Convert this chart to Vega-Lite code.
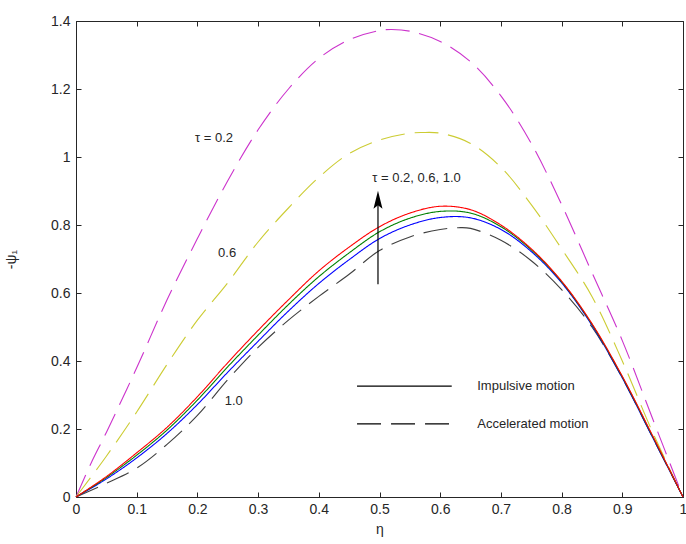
{
  "$schema": "https://vega.github.io/schema/vega-lite/v6.json",
  "width": 607,
  "height": 476,
  "autosize": "none",
  "padding": {"left": 76, "top": 21, "right": 3, "bottom": 47},
  "background": "white",
  "config": {
    "view": {"stroke": "#262626", "strokeWidth": 1},
    "font": "Liberation Sans",
    "axis": {"grid": false, "domainColor": "#262626", "tickColor": "#262626", "labelColor": "#262626", "titleColor": "#262626", "labelFont": "Liberation Sans", "titleFont": "Liberation Sans", "labelFontSize": 14, "titleFontSize": 14, "titleFontWeight": "normal", "tickSize": -5, "domain": true}
  },
  "datasets": {
    "curves": [
      {"curve":"A02","x":0,"y":0},{"curve":"A02","x":0.025,"y":0.1},{"curve":"A02","x":0.05,"y":0.19},{"curve":"A02","x":0.1,"y":0.38},{"curve":"A02","x":0.15,"y":0.58},{"curve":"A02","x":0.2,"y":0.76},{"curve":"A02","x":0.25,"y":0.93},{"curve":"A02","x":0.3,"y":1.08},{"curve":"A02","x":0.35,"y":1.2},{"curve":"A02","x":0.4,"y":1.29},{"curve":"A02","x":0.45,"y":1.345},{"curve":"A02","x":0.5,"y":1.372},{"curve":"A02","x":0.52,"y":1.375},{"curve":"A02","x":0.55,"y":1.37},{"curve":"A02","x":0.6,"y":1.34},{"curve":"A02","x":0.65,"y":1.28},{"curve":"A02","x":0.7,"y":1.18},{"curve":"A02","x":0.75,"y":1.04},{"curve":"A02","x":0.8,"y":0.86},{"curve":"A02","x":0.85,"y":0.66},{"curve":"A02","x":0.9,"y":0.46},{"curve":"A02","x":0.95,"y":0.23},{"curve":"A02","x":1,"y":0},
      {"curve":"A06","x":0,"y":0},{"curve":"A06","x":0.05,"y":0.12},{"curve":"A06","x":0.1,"y":0.25},{"curve":"A06","x":0.15,"y":0.39},{"curve":"A06","x":0.2,"y":0.52},{"curve":"A06","x":0.25,"y":0.63},{"curve":"A06","x":0.3,"y":0.75},{"curve":"A06","x":0.35,"y":0.85},{"curve":"A06","x":0.4,"y":0.94},{"curve":"A06","x":0.45,"y":1.01},{"curve":"A06","x":0.5,"y":1.05},{"curve":"A06","x":0.55,"y":1.07},{"curve":"A06","x":0.57,"y":1.072},{"curve":"A06","x":0.6,"y":1.07},{"curve":"A06","x":0.65,"y":1.04},{"curve":"A06","x":0.7,"y":0.97},{"curve":"A06","x":0.75,"y":0.86},{"curve":"A06","x":0.8,"y":0.73},{"curve":"A06","x":0.85,"y":0.59},{"curve":"A06","x":0.9,"y":0.4},{"curve":"A06","x":0.95,"y":0.19},{"curve":"A06","x":1,"y":0},
      {"curve":"A10","x":0,"y":0},{"curve":"A10","x":0.05,"y":0.04},{"curve":"A10","x":0.1,"y":0.085},{"curve":"A10","x":0.15,"y":0.155},{"curve":"A10","x":0.2,"y":0.24},{"curve":"A10","x":0.25,"y":0.345},{"curve":"A10","x":0.3,"y":0.44},{"curve":"A10","x":0.35,"y":0.52},{"curve":"A10","x":0.4,"y":0.59},{"curve":"A10","x":0.45,"y":0.655},{"curve":"A10","x":0.5,"y":0.725},{"curve":"A10","x":0.55,"y":0.765},{"curve":"A10","x":0.6,"y":0.787},{"curve":"A10","x":0.63,"y":0.792},{"curve":"A10","x":0.65,"y":0.79},{"curve":"A10","x":0.7,"y":0.755},{"curve":"A10","x":0.75,"y":0.695},{"curve":"A10","x":0.8,"y":0.61},{"curve":"A10","x":0.85,"y":0.5},{"curve":"A10","x":0.9,"y":0.35},{"curve":"A10","x":0.95,"y":0.175},{"curve":"A10","x":1,"y":0},
      {"curve":"I02","x":0,"y":0},{"curve":"I02","x":0.05,"y":0.053},{"curve":"I02","x":0.1,"y":0.115},{"curve":"I02","x":0.15,"y":0.187},{"curve":"I02","x":0.2,"y":0.272},{"curve":"I02","x":0.25,"y":0.367},{"curve":"I02","x":0.3,"y":0.458},{"curve":"I02","x":0.35,"y":0.547},{"curve":"I02","x":0.4,"y":0.628},{"curve":"I02","x":0.45,"y":0.698},{"curve":"I02","x":0.5,"y":0.76},{"curve":"I02","x":0.55,"y":0.8},{"curve":"I02","x":0.6,"y":0.822},{"curve":"I02","x":0.65,"y":0.821},{"curve":"I02","x":0.7,"y":0.787},{"curve":"I02","x":0.75,"y":0.722},{"curve":"I02","x":0.8,"y":0.63},{"curve":"I02","x":0.85,"y":0.505},{"curve":"I02","x":0.9,"y":0.35},{"curve":"I02","x":0.95,"y":0.175},{"curve":"I02","x":1,"y":0},
      {"curve":"I06","x":0,"y":0},{"curve":"I06","x":0.05,"y":0.057},{"curve":"I06","x":0.1,"y":0.123},{"curve":"I06","x":0.15,"y":0.197},{"curve":"I06","x":0.2,"y":0.285},{"curve":"I06","x":0.25,"y":0.383},{"curve":"I06","x":0.3,"y":0.476},{"curve":"I06","x":0.35,"y":0.566},{"curve":"I06","x":0.4,"y":0.648},{"curve":"I06","x":0.45,"y":0.718},{"curve":"I06","x":0.5,"y":0.78},{"curve":"I06","x":0.55,"y":0.82},{"curve":"I06","x":0.6,"y":0.84},{"curve":"I06","x":0.65,"y":0.835},{"curve":"I06","x":0.7,"y":0.795},{"curve":"I06","x":0.75,"y":0.727},{"curve":"I06","x":0.8,"y":0.633},{"curve":"I06","x":0.85,"y":0.508},{"curve":"I06","x":0.9,"y":0.353},{"curve":"I06","x":0.95,"y":0.178},{"curve":"I06","x":1,"y":0},
      {"curve":"I10","x":0,"y":0},{"curve":"I10","x":0.05,"y":0.06},{"curve":"I10","x":0.1,"y":0.13},{"curve":"I10","x":0.15,"y":0.205},{"curve":"I10","x":0.2,"y":0.295},{"curve":"I10","x":0.25,"y":0.395},{"curve":"I10","x":0.3,"y":0.49},{"curve":"I10","x":0.35,"y":0.58},{"curve":"I10","x":0.4,"y":0.665},{"curve":"I10","x":0.45,"y":0.735},{"curve":"I10","x":0.5,"y":0.795},{"curve":"I10","x":0.55,"y":0.835},{"curve":"I10","x":0.6,"y":0.855},{"curve":"I10","x":0.65,"y":0.845},{"curve":"I10","x":0.7,"y":0.8},{"curve":"I10","x":0.75,"y":0.73},{"curve":"I10","x":0.8,"y":0.635},{"curve":"I10","x":0.85,"y":0.51},{"curve":"I10","x":0.9,"y":0.355},{"curve":"I10","x":0.95,"y":0.18},{"curve":"I10","x":1,"y":0}
    ],
    "labels": [
      {"text":"τ = 0.2","x":0.196,"y":1.056},
      {"text":"0.6","x":0.234,"y":0.718},
      {"text":"1.0","x":0.245,"y":0.282},
      {"text":"τ = 0.2, 0.6, 1.0","x":0.488,"y":0.938},
      {"text":"Impulsive motion","x":0.661,"y":0.326},
      {"text":"Accelerated motion","x":0.661,"y":0.215}
    ],
    "keylines": [
      {"curve":"I10","x":0.463,"y":0.326},{"curve":"I10","x":0.619,"y":0.326},
      {"curve":"A10","x":0.463,"y":0.215},{"curve":"A10","x":0.6145,"y":0.215}
    ],
    "arrow": [
      {"x":0.4975,"y":0.626,"y2":0.88,"head":0.871}
    ]
  },
  "layer": [
    {
      "data": {"name": "curves"},
      "mark": {"type": "line", "strokeWidth": 1.1, "interpolate": "catmull-rom"},
      "encoding": {
        "x": {"field": "x", "type": "quantitative", "scale": {"domain": [0, 1], "nice": false},
          "axis": {"orient": "bottom", "values": [0,0.1,0.2,0.3,0.4,0.5,0.6,0.7,0.8,0.9,1], "format": "~g", "labelPadding": 10, "title": "η", "titlePadding": 6, "labelFlush": false}},
        "y": {"field": "y", "type": "quantitative", "scale": {"domain": [0, 1.4], "nice": false},
          "axis": {"orient": "left", "values": [0,0.2,0.4,0.6,0.8,1,1.2,1.4], "format": "~g", "labelPadding": 11, "title": "-ψ₁", "titlePadding": 32, "labelFlush": false}},
        "color": {"field": "curve", "type": "nominal", "legend": null,
          "scale": {"domain": ["A02","A06","A10","I02","I06","I10"], "range": ["#cc33cc","#cccc33","#404040","#0000ff","#008000","#ff0000"]}},
        "strokeDash": {"field": "curve", "type": "nominal", "legend": null,
          "scale": {"domain": ["A02","A06","A10","I02","I06","I10"], "range": [[24,10],[24,10],[24,10],[1,0],[1,0],[1,0]]}}
      }
    },
    {
      "data": {"name": "keylines"},
      "mark": {"type": "line", "color": "#000000", "strokeWidth": 1.1},
      "encoding": {
        "x": {"field": "x", "type": "quantitative", "axis": {"orient": "top", "values": [0,0.1,0.2,0.3,0.4,0.5,0.6,0.7,0.8,0.9,1], "labels": false, "title": null, "domain": false}},
        "y": {"field": "y", "type": "quantitative", "axis": {"orient": "right", "values": [0,0.2,0.4,0.6,0.8,1,1.2,1.4], "labels": false, "title": null, "domain": false}},
        "detail": {"field": "curve", "type": "nominal"},
        "strokeDash": {"field": "curve", "type": "nominal", "legend": null}
      }
    },
    {
      "data": {"name": "labels"},
      "mark": {"type": "text", "align": "left", "baseline": "middle", "fontSize": 13, "color": "#262626", "font": "Liberation Sans"},
      "encoding": {
        "x": {"field": "x", "type": "quantitative", "axis": null},
        "y": {"field": "y", "type": "quantitative", "axis": null},
        "text": {"field": "text", "type": "nominal"}
      }
    },
    {
      "data": {"name": "arrow"},
      "mark": {"type": "rule", "color": "#000000", "strokeWidth": 1.2},
      "encoding": {
        "x": {"field": "x", "type": "quantitative", "axis": null},
        "y": {"field": "y", "type": "quantitative", "axis": null},
        "y2": {"field": "y2"}
      }
    },
    {
      "data": {"name": "arrow"},
      "mark": {"type": "point", "filled": true, "color": "#000000", "opacity": 1, "size": 400, "shape": "M0,-1L0.45,0.8L0,0.45L-0.45,0.8Z"},
      "encoding": {
        "x": {"field": "x", "type": "quantitative", "axis": null},
        "y": {"field": "head", "type": "quantitative", "axis": null}
      }
    }
  ],
  "resolve": {"axis": {"x": "independent", "y": "independent"}}
}
